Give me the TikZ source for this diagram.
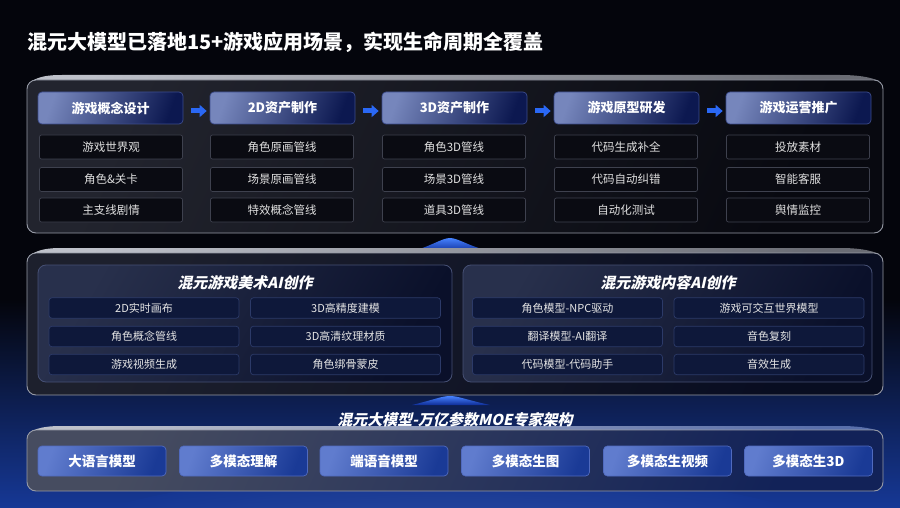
\documentclass[tikz,border=0pt]{standalone}
\usepackage{fontspec}
\setmainfont{Noto Sans CJK SC}
\newfontfamily\slfont{Noto Sans CJK SC}[FakeSlant=0.22]
\usetikzlibrary{arrows.meta}
\definecolor{bg}{RGB}{4,5,12}
\definecolor{bgblue}{RGB}{22,56,150}
\definecolor{panelL}{RGB}{34,36,46}
\definecolor{panelR}{RGB}{8,9,16}
\definecolor{panelborder}{RGB}{150,154,166}
\definecolor{bevel}{RGB}{190,193,202}
\definecolor{hdrL}{RGB}{118,134,188}
\definecolor{hdrR}{RGB}{12,24,80}
\definecolor{hdrborder}{RGB}{60,76,140}
\definecolor{subfill}{RGB}{10,11,18}
\definecolor{subborder}{RGB}{62,65,78}
\definecolor{midpanelL}{RGB}{40,48,76}
\definecolor{midpanelR}{RGB}{10,16,42}
\definecolor{midborder}{RGB}{70,80,116}
\definecolor{itemfill}{RGB}{14,24,58}
\definecolor{itemborder}{RGB}{44,58,104}
\definecolor{botL}{RGB}{96,124,206}
\definecolor{botR}{RGB}{26,58,150}
\definecolor{botborder}{RGB}{80,106,190}
\definecolor{botpanelL}{RGB}{70,76,96}
\definecolor{botpanelR}{RGB}{18,34,88}
\definecolor{arrowblue}{RGB}{42,104,245}
\definecolor{glowtop}{RGB}{70,130,255}
\definecolor{glowbot}{RGB}{14,44,150}
\tikzset{
  panel/.style={draw=panelborder, line width=0.9pt, rounded corners=9pt},
  hdr/.style={draw=hdrborder, line width=0.7pt, rounded corners=4pt,
    minimum width=145pt, minimum height=32pt, left color=hdrL, right color=hdrR,
    shading angle=70, text=white, font=\bfseries\fontsize{13}{13}\selectfont},
  subbox/.style={draw=subborder, line width=0.7pt, rounded corners=2pt, fill=subfill,
    minimum width=143pt, minimum height=24pt, text=white!88!black,
    font=\fontsize{11.5}{11.5}\selectfont},
  subpanel/.style={draw=midborder, line width=0.8pt, rounded corners=8pt,
    left color=midpanelL, right color=midpanelR, shading angle=60},
  item/.style={draw=itemborder, line width=0.7pt, rounded corners=3pt, fill=itemfill,
    minimum width=190pt, minimum height=20.5pt, text=white!90!black,
    font=\fontsize{11}{11}\selectfont},
  subtitle/.style={text=white, font=\slfont\bfseries\fontsize{15}{15}\selectfont},
  botbox/.style={draw=botborder, line width=0.7pt, rounded corners=4pt,
    minimum width=128pt, minimum height=30pt, left color=botL, right color=botR,
    shading angle=70, text=white, font=\bfseries\fontsize{13.5}{13.5}\selectfont},
  flow/.style={line width=5pt, draw=arrowblue, -{Triangle[length=7pt,width=12pt]},
    shorten <=8pt, shorten >=3pt},
  bevelstrip/.style={left color=bevel, right color=bevel!55!bg, shading angle=80},
}
\begin{document}
\begin{tikzpicture}[x=1pt,y=-1pt]
\useasboundingbox (0,0) rectangle (900,508);
% background
\fill[bg] (0,0) rectangle (900,508);
\shade[top color=bg, bottom color=bgblue] (0,300) rectangle (900,508);
\shade[inner color=bgblue!80!white, outer color=bgblue, opacity=0.6] (450,560) ellipse (420pt and 90pt);

% title
\node[anchor=west, text=white, font=\bfseries\fontsize{20}{20}\selectfont, inner sep=0pt] (title) at (27,42)
  {混元大模型已落地15+游戏应用场景，实现生命周期全覆盖};

% ---------- top panel ----------
\path[bevelstrip] (32,81) .. controls (40,76) and (50,75) .. (62,75) -- (840,75) .. controls (858,75) and (870,77) .. (879,81) -- cycle;
\path[panel, left color=panelL, right color=panelR, shading angle=65] (27,80) rectangle (883,233);

\foreach \i/\x/\t in {1/110.5/游戏概念设计, 2/282.5/2D资产制作, 3/454.5/3D资产制作, 4/626.5/游戏原型研发, 5/798.5/游戏运营推广}
  \node[hdr] (h\i) at (\x,108) {\t};

\foreach \a/\b in {1/2,2/3,3/4,4/5}
  \draw[flow] ([yshift=-3pt]h\a.east) -- ([yshift=-3pt]h\b.west);

\node[subbox] (s11) at (111,147) {游戏世界观};
\node[subbox] (s12) at (111,179.5) {角色\&关卡};
\node[subbox] (s13) at (111,210) {主支线剧情};
\node[subbox] (s21) at (282,147) {角色原画管线};
\node[subbox] (s22) at (282,179.5) {场景原画管线};
\node[subbox] (s23) at (282,210) {特效概念管线};
\node[subbox] (s31) at (454,147) {角色3D管线};
\node[subbox] (s32) at (454,179.5) {场景3D管线};
\node[subbox] (s33) at (454,210) {道具3D管线};
\node[subbox] (s41) at (626,147) {代码生成补全};
\node[subbox] (s42) at (626,179.5) {代码自动纠错};
\node[subbox] (s43) at (626,210) {自动化测试};
\node[subbox] (s51) at (798,147) {投放素材};
\node[subbox] (s52) at (798,179.5) {智能客服};
\node[subbox] (s53) at (798,210) {舆情监控};

% glow 1
\shade[top color=glowtop, bottom color=glowbot]
  (410,252) .. controls (432,246) and (442,238) .. (450,238)
  .. controls (458,238) and (468,246) .. (492,252) -- cycle;

% ---------- middle panel ----------
\path[bevelstrip] (32,254) .. controls (40,249) and (50,248) .. (62,248) -- (840,248) .. controls (858,248) and (870,250) .. (879,254) -- cycle;
\path[panel, left color=panelL!80!midpanelR, right color=midpanelR!70!bg, shading angle=65] (27,253) rectangle (883,395);
\path[subpanel] (38,265) rectangle (452,382);
\path[subpanel] (463,265) rectangle (872,382);

\node[subtitle] (t1) at (245,283) {混元游戏美术AI创作};
\node[subtitle] (t2) at (668,283) {混元游戏内容AI创作};

\node[item] (m11) at (144,308) {2D实时画布};
\node[item] (m12) at (144,336.5) {角色概念管线};
\node[item] (m13) at (144,364.5) {游戏视频生成};
\node[item] (m21) at (345.5,308) {3D高精度建模};
\node[item] (m22) at (345.5,336.5) {3D高清纹理材质};
\node[item] (m23) at (345.5,364.5) {角色绑骨蒙皮};
\node[item] (m31) at (567.5,308) {角色模型-NPC驱动};
\node[item] (m32) at (567.5,336.5) {翻译模型-AI翻译};
\node[item] (m33) at (567.5,364.5) {代码模型-代码助手};
\node[item] (m41) at (769,308) {游戏可交互世界模型};
\node[item] (m42) at (769,336.5) {音色复刻};
\node[item] (m43) at (769,364.5) {音效生成};

% glow 2
\shade[top color=glowtop, bottom color=glowbot]
  (412,405) .. controls (433,400) and (442,396) .. (450,396)
  .. controls (458,396) and (467,400) .. (490,405) -- cycle;

% ---------- bottom ----------
\path[left color=bevel, right color=bevel!40!bgblue, shading angle=80] (32,431) .. controls (40,427) and (50,426) .. (62,426) -- (840,426) .. controls (858,426) and (870,428) .. (879,431) -- cycle;
\path[panel, left color=botpanelL, right color=botpanelR, shading angle=65] (27,430) rectangle (883,491);

\node[subtitle, font=\slfont\bfseries\fontsize{15}{15}\selectfont] (base) at (455,419.5) {混元大模型-万亿参数MOE专家架构};

\node[botbox] (b1) at (102,461) {大语言模型};
\node[botbox] (b2) at (243.5,461) {多模态理解};
\node[botbox] (b3) at (384,461) {端语音模型};
\node[botbox] (b4) at (525.5,461) {多模态生图};
\node[botbox] (b5) at (667.5,461) {多模态生视频};
\node[botbox] (b6) at (808.5,461) {多模态生3D};
\end{tikzpicture}
\end{document}
